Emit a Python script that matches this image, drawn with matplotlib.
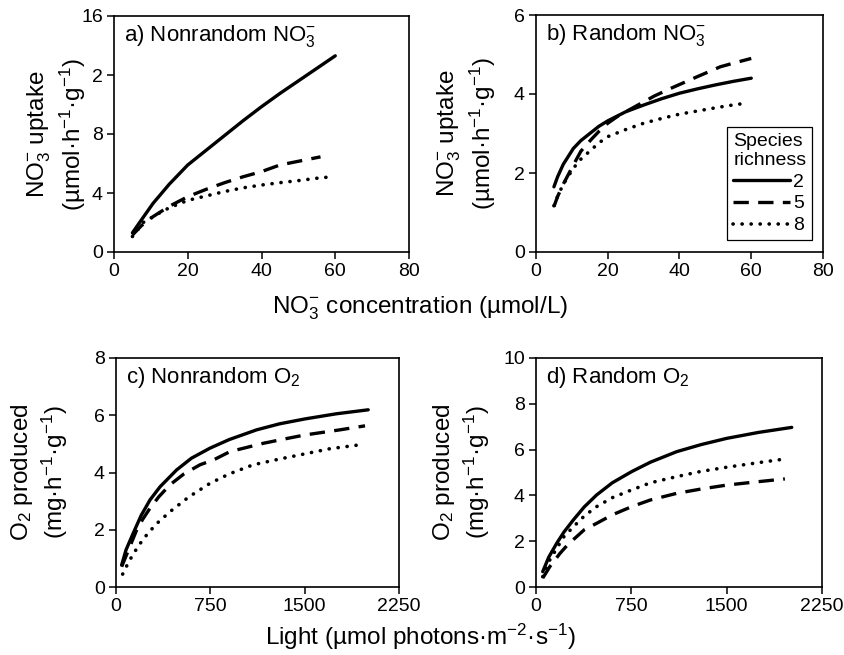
import numpy as np
import matplotlib
matplotlib.use("Agg")
import matplotlib.pyplot as plt

plt.rcParams["font.family"] = ["Liberation Sans", "DejaVu Sans"]
plt.rcParams["mathtext.fontset"] = "custom"
plt.rcParams["mathtext.rm"] = "Liberation Sans"
plt.rcParams["mathtext.it"] = "Liberation Sans:italic"
plt.rcParams["mathtext.bf"] = "Liberation Sans:bold"

# ---- data ----
richness = ["2", "5", "8"]

# a) nonrandom NO3- uptake vs concentration
a_x2 = [5, 7.5, 10.6, 15, 20, 25, 30, 35, 40, 45, 50, 55, 60]
a_y2 = [1.3, 2.2, 3.3, 4.6, 5.9, 6.9, 7.9, 8.9, 9.85, 10.75, 11.6, 12.45, 13.3]
a_x5 = [5, 7.5, 10.6, 15, 20, 25, 30, 35, 40, 45, 50, 56]
a_y5 = [1.15, 1.8, 2.4, 3.1, 3.75, 4.25, 4.7, 5.1, 5.45, 5.9, 6.15, 6.45]
a_x8 = [5, 7.9, 12, 15, 20, 25, 30, 35, 40, 45, 50, 55, 59]
a_y8 = [1.05, 2.0, 2.6, 3.0, 3.5, 3.8, 4.1, 4.35, 4.54, 4.7, 4.84, 5.0, 5.1]

# b) random NO3- uptake vs concentration
b_x2 = [5, 6, 7.6, 10.4, 12.5, 15, 17.5, 20, 25, 30, 35, 40, 45, 50, 55, 60]
b_y2 = [1.65, 1.9, 2.22, 2.62, 2.82, 3.0, 3.18, 3.32, 3.55, 3.72, 3.88, 4.02,
        4.13, 4.23, 4.32, 4.4]
b_x5 = [5, 6, 7.5, 10.4, 12.5, 15.3, 17.5, 20, 23, 26, 30, 33, 37.5, 41, 45,
        51.4, 55, 60]
b_y5 = [1.15, 1.4, 1.7, 2.2, 2.55, 2.84, 3.05, 3.26, 3.45, 3.6, 3.8, 3.95,
        4.14, 4.28, 4.44, 4.69, 4.78, 4.9]
b_x8 = [5, 6, 7.5, 10.4, 12.5, 15.3, 17.5, 20, 25, 30, 35, 40, 45, 50, 54, 58]
b_y8 = [1.17, 1.4, 1.7, 2.12, 2.35, 2.58, 2.76, 2.92, 3.1, 3.26, 3.38, 3.49,
        3.57, 3.65, 3.71, 3.76]

# c) nonrandom O2 produced vs light
c_x2 = [45, 80, 138, 200, 270, 350, 482, 600, 747, 900, 1118, 1300, 1500,
        1750, 2005]
c_y2 = [0.77, 1.3, 1.89, 2.5, 3.04, 3.5, 4.09, 4.5, 4.85, 5.15, 5.49, 5.7,
        5.87, 6.05, 6.19]
c_x5 = [45, 100, 164, 210, 270, 340, 429, 540, 668, 780, 906, 1171, 1350,
        1500, 1780, 1980]
c_y5 = [0.71, 1.3, 1.99, 2.35, 2.75, 3.15, 3.57, 3.95, 4.27, 4.45, 4.73,
        5.02, 5.18, 5.31, 5.49, 5.63]
c_x8 = [53, 90, 125, 180, 244, 320, 429, 580, 747, 900, 1091, 1300, 1500,
        1700, 1926]
c_y8 = [0.45, 0.78, 1.06, 1.45, 1.82, 2.2, 2.63, 3.15, 3.62, 3.95, 4.27,
        4.47, 4.65, 4.83, 4.96]

# d) random O2 produced vs light
d_x2 = [53, 100, 163, 220, 294, 380, 477, 600, 753, 900, 1107, 1300, 1500,
        1750, 2012]
d_y2 = [0.67, 1.3, 1.91, 2.4, 2.93, 3.5, 4.02, 4.55, 5.04, 5.45, 5.91, 6.22,
        6.49, 6.75, 6.97]
d_x5 = [53, 110, 189, 250, 320, 380, 477, 600, 753, 900, 1107, 1300, 1500,
        1750, 1958]
d_y5 = [0.39, 0.9, 1.47, 1.85, 2.2, 2.5, 2.78, 3.15, 3.51, 3.8, 4.09, 4.28,
        4.45, 4.6, 4.72]
d_x8 = [53, 100, 163, 220, 294, 380, 477, 600, 753, 900, 1107, 1300, 1500,
        1750, 1958]
d_y8 = [0.45, 1.1, 1.69, 2.2, 2.63, 3.1, 3.51, 3.9, 4.24, 4.55, 4.82, 5.05,
        5.23, 5.43, 5.59]

no3_xticks = [0, 20, 40, 60, 80]
light_xticks = [0, 750, 1500, 2250]
a_yticks = [0, 4, 8, 12, 16]
a_yticklabels = ["0", "4", "8", "2", "16"]
b_yticks = [0, 2, 4, 6]
c_yticks = [0, 2, 4, 6, 8]
d_yticks = [0, 2, 4, 6, 8, 10]

LW = 2.4
styles = [
    dict(color="black", lw=LW, ls="-", solid_capstyle="round",
         solid_joinstyle="round"),
    dict(color="black", lw=LW, ls=(0, (4.6, 2.8)), dash_capstyle="butt"),
    dict(color="black", lw=2.6, ls=(0, (0.05, 2.45)), dash_capstyle="round"),
]

fig = plt.figure(figsize=(8.45, 6.55), dpi=100)
W, H = 845, 655


def px_axes(l, r, t, b):
    return fig.add_axes([l / W, 1 - b / H, (r - l) / W, (b - t) / H])


ax_a = px_axes(114, 409, 16, 252)
ax_b = px_axes(536, 823, 15, 252)
ax_c = px_axes(116, 399, 358, 587)
ax_d = px_axes(536, 822, 358, 587)

panels = [
    (ax_a, [(a_x2, a_y2), (a_x5, a_y5), (a_x8, a_y8)], "a) Nonrandom NO$_3^{-}$",
     no3_xticks, a_yticks, "NO$_3^{-}$ uptake\n(µmol·h$^{-1}$·g$^{-1}$)", -0.195),
    (ax_b, [(b_x2, b_y2), (b_x5, b_y5), (b_x8, b_y8)], "b) Random NO$_3^{-}$",
     no3_xticks, b_yticks, "NO$_3^{-}$ uptake\n(µmol·h$^{-1}$·g$^{-1}$)", -0.24),
    (ax_c, [(c_x2, c_y2), (c_x5, c_y5), (c_x8, c_y8)], "c) Nonrandom O$_2$",
     light_xticks, c_yticks, "O$_2$ produced\n(mg·h$^{-1}$·g$^{-1}$)", -0.27),
    (ax_d, [(d_x2, d_y2), (d_x5, d_y5), (d_x8, d_y8)], "d) Random O$_2$",
     light_xticks, d_yticks, "O$_2$ produced\n(mg·h$^{-1}$·g$^{-1}$)", -0.26),
]

for ax, series, title, xt, yt, ylab, ylx in panels:
    for (xs, ys), st, lab in zip(series, styles, richness):
        ax.plot(xs, ys, label=lab, **st)
    ax.set_xlim(xt[0], xt[-1])
    ax.set_ylim(yt[0], yt[-1])
    ax.set_xticks(xt)
    ax.set_yticks(yt)
    ax.tick_params(direction="out", length=5, width=1.1, labelsize=14, pad=3)
    for sp in ax.spines.values():
        sp.set_linewidth(1.2)
    ax.text(0.035, 0.915, title, transform=ax.transAxes, fontsize=16,
            ha="left", va="center")
    ax.set_ylabel(ylab, fontsize=17.5, va="center", linespacing=1.2)
    ax.yaxis.set_label_coords(ylx, 0.5)

ax_a.set_yticklabels(a_yticklabels)

leg = ax_b.legend(title="Species\nrichness", loc="lower right",
                  bbox_to_anchor=(0.962, 0.05), fontsize=14,
                  title_fontsize=14, handlelength=2.9, handletextpad=0.2,
                  labelspacing=0.22, borderpad=0.3, borderaxespad=0,
                  markerfirst=True, fancybox=False, framealpha=1,
                  edgecolor="black", alignment="left")
leg.get_frame().set_linewidth(0.9)
leg.get_title().set_linespacing(1.15)

fig.text(420 / W, 1 - 308 / H, "NO$_3^{-}$ concentration (µmol/L)",
         ha="center", va="center", fontsize=17.5)
fig.text(420 / W, 1 - 637 / H, "Light (µmol photons·m$^{-2}$·s$^{-1}$)",
         ha="center", va="center", fontsize=17.5)

fig.savefig("out.png", dpi=100)
